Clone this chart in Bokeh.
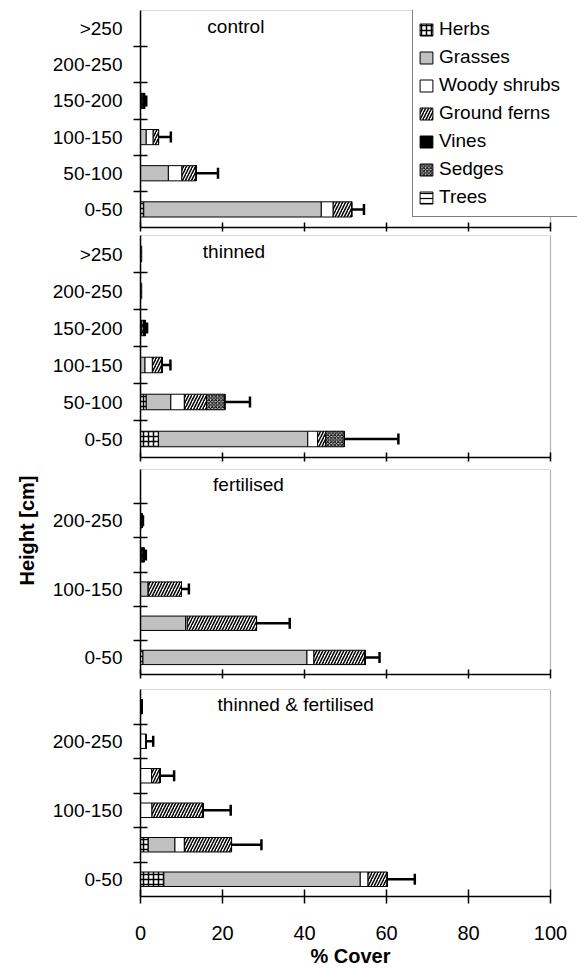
from bokeh.plotting import figure
from bokeh.models import (ColumnDataSource, Range1d, FixedTicker, Whisker, TeeHead, Label,
                          Title, BoxAnnotation)
from bokeh.layouts import column
from bokeh.embed import file_html
from bokeh.resources import INLINE

# ---------------- data ----------------
heights = ["0-50", "50-100", "100-150", "150-200", "200-250", ">250"]
labels_full = ["0-50", "50-100", "100-150", "150-200", "200-250", ">250"]
labels_sparse = ["0-50", "", "100-150", "", "200-250", ""]
species = ["Herbs", "Grasses", "Woody shrubs", "Ground ferns", "Vines", "Sedges", "Trees"]
x_ticks = [0, 20, 40, 60, 80, 100]

# control (order of heights as above)
control_herbs = [0.8, 0, 0, 0, 0, 0]
control_grasses = [43.3, 6.8, 1.4, 0, 0, 0]
control_shrubs = [2.9, 3.3, 1.7, 0.3, 0, 0]
control_ferns = [4.5, 3.5, 1.3, 0.3, 0, 0]
control_vines = [0, 0, 0, 0.4, 0, 0]
control_sedges = [0, 0, 0, 0, 0, 0]
control_trees = [0, 0, 0, 0, 0, 0]
control_err = [3.0, 5.3, 3.0, 0.4, 0, 0]

# thinned
thinned_herbs = [4.4, 1.4, 0, 0, 0, 0]
thinned_grasses = [36.4, 6.0, 1.1, 0, 0, 0]
thinned_shrubs = [2.4, 3.3, 1.8, 0.3, 0, 0]
thinned_ferns = [2.0, 5.4, 2.4, 0.4, 0, 0]
thinned_vines = [0, 0, 0, 0.5, 0, 0]
thinned_sedges = [4.5, 4.5, 0, 0, 0, 0]
thinned_trees = [0, 0, 0, 0, 0.3, 0.3]
thinned_err = [13.2, 6.1, 2.0, 0.4, 0, 0]

# fertilised
fert_herbs = [0.6, 0, 0, 0, 0, 0]
fert_grasses = [40.0, 11.0, 1.9, 0, 0, 0]
fert_shrubs = [1.7, 0.4, 0, 0.3, 0, 0]
fert_ferns = [12.5, 16.9, 8.1, 0.3, 0, 0]
fert_vines = [0, 0, 0, 0.3, 0.4, 0]
fert_sedges = [0, 0, 0, 0, 0, 0]
fert_trees = [0, 0, 0, 0, 0, 0]
fert_err = [3.5, 8.1, 1.8, 0.4, 0.2, 0]

# thinned & fertilised
tf_herbs = [5.7, 1.9, 0, 0, 0, 0]
tf_grasses = [47.9, 6.5, 0, 0, 0, 0]
tf_shrubs = [1.9, 2.3, 2.8, 2.7, 1.4, 0]
tf_ferns = [4.7, 11.5, 12.5, 2.1, 0, 0]
tf_vines = [0, 0, 0, 0, 0, 0.4]
tf_sedges = [0, 0, 0, 0, 0, 0]
tf_trees = [0, 0, 0, 0, 0, 0]
tf_err = [6.7, 7.3, 6.7, 3.4, 1.7, 0]

# ---------------- styles ----------------
FONT = "Liberation Sans"
fills = ["white", "#c0c0c0", "white", "white", "black", "#c4c4c4", "white"]
hatches = ["+", " ", " ", "/", " ", "x", "-"]
hscales = [5.0, 12.0, 12.0, 6.0, 12.0, 3.5, 5.0]
hweights = [1.5, 1.0, 1.0, 1.5, 1.0, 1.0, 1.2]

W = 577
LEFT = 140
FRAME_W = 410          # pixel width of the 0..100 part of the frame
X_END = 100.0 * (W - LEFT) / FRAME_W


def make_panel(name, series, err, ylabels, title_x, height, top, bottom,
               show_x_labels=False, legend=False):
    p = figure(width=W, height=height, x_range=Range1d(0, X_END), y_range=Range1d(0, 6),
               output_backend="svg", toolbar_location=None,
               min_border_left=LEFT, min_border_right=0,
               min_border_top=top, min_border_bottom=bottom)
    p.outline_line_color = None
    p.grid.visible = False
    p.add_layout(BoxAnnotation(left=0, right=100, bottom=0, top=6, fill_alpha=0,
                               line_color="black", line_width=1.2, level="underlay"))

    y = [i + 0.5 for i in range(len(heights))]
    data = {"y": y}
    for s, vals in zip(species, series):
        data[s] = vals
    src = ColumnDataSource(data)
    kw = dict(legend_label=species) if legend else {}

    p.hbar_stack(species, y="y", height=0.42, source=src, fill_color=fills,
                 line_color="black", line_width=1, hatch_pattern=hatches,
                 hatch_color="black", hatch_scale=hscales, hatch_weight=hweights, **kw)

    totals = [sum(v[i] for v in series) for i in range(len(heights))]
    keep = [i for i in range(len(heights)) if err[i] > 0]
    wsrc = ColumnDataSource(dict(base=[y[i] for i in keep],
                                 lower=[totals[i] for i in keep],
                                 upper=[totals[i] + err[i] for i in keep]))
    w = Whisker(source=wsrc, base="base", lower="lower", upper="upper", dimension="width",
                line_width=2.5, line_color="black", lower_head=None,
                upper_head=TeeHead(size=11, line_width=2.5, line_color="black"))
    p.add_layout(w)

    p.add_layout(Label(x=title_x, y=5.56, text=name, text_font=FONT, text_font_size="19px",
                       text_baseline="middle", text_color="black"))

    xa = p.xaxis[0]
    xa.ticker = FixedTicker(ticks=x_ticks)
    xa.bounds = (0, 100)
    xa.minor_tick_line_color = None
    xa.axis_line_width = 1.5
    xa.major_tick_line_width = 1.5
    if show_x_labels:
        xa.major_tick_in = 7
        xa.major_tick_out = 7
        xa.major_label_text_font = FONT
        xa.major_label_text_font_size = "20px"
        xa.major_label_text_color = "black"
        xa.major_label_standoff = 22
    else:
        xa.major_tick_in = 5
        xa.major_tick_out = 4
        xa.major_label_overrides = {t: "" for t in x_ticks}
        xa.major_label_text_font_size = "1px"
        xa.major_label_standoff = 0

    ya = p.yaxis[0]
    shown = [i for i in range(len(heights)) if ylabels[i]]
    ya.ticker = FixedTicker(ticks=[y[i] for i in shown], minor_ticks=[1, 2, 3, 4, 5])
    ya.major_label_overrides = {y[i]: ylabels[i] for i in shown}
    ya.major_tick_in = 0
    ya.major_tick_out = 0
    ya.minor_tick_in = 7
    ya.minor_tick_out = 7
    ya.minor_tick_line_width = 1.5
    ya.axis_line_width = 1.5
    ya.major_label_text_font = FONT
    ya.major_label_text_font_size = "19px"
    ya.major_label_text_color = "black"
    ya.major_label_standoff = 11

    if legend:
        lg = p.legend[0]
        lg.location = (272, 10)
        lg.label_text_font = FONT
        lg.label_text_font_size = "19px"
        lg.label_text_color = "black"
        lg.glyph_width = 16
        lg.glyph_height = 15
        lg.label_height = 28
        lg.label_width = 200
        lg.label_standoff = 5
        lg.spacing = 0
        lg.padding = 5
        lg.margin = 0
        lg.border_line_color = "black"
        lg.border_line_width = 1
        lg.background_fill_alpha = 1.0
    return p


p1 = make_panel("control",
                [control_herbs, control_grasses, control_shrubs, control_ferns,
                 control_vines, control_sedges, control_trees],
                control_err, labels_full, 16.3, 233, 10, 6, legend=True)
p2 = make_panel("thinned",
                [thinned_herbs, thinned_grasses, thinned_shrubs, thinned_ferns,
                 thinned_vines, thinned_sedges, thinned_trees],
                thinned_err, labels_full, 15.2, 230, 2, 6)
p3 = make_panel("fertilised",
                [fert_herbs, fert_grasses, fert_shrubs, fert_ferns,
                 fert_vines, fert_sedges, fert_trees],
                fert_err, labels_sparse, 17.7, 218, 6, 7)
p4 = make_panel("thinned & fertilised",
                [tf_herbs, tf_grasses, tf_shrubs, tf_ferns,
                 tf_vines, tf_sedges, tf_trees],
                tf_err, labels_sparse, 18.8, 288, 8, 72, show_x_labels=True)

p3.add_layout(Title(text="Height [cm]", align="right", offset=6, vertical_align="middle",
                    text_font=FONT, text_font_size="20px", text_font_style="bold",
                    text_color="black", standoff=22), "left")
p4.add_layout(Title(text="% Cover", align="left", offset=170, vertical_align="middle",
                    text_font=FONT, text_font_size="20px", text_font_style="bold",
                    text_color="black", standoff=3), "below")

layout = column(p1, p2, p3, p4, spacing=0)
open("out.html", "w").write(file_html(layout, INLINE))
